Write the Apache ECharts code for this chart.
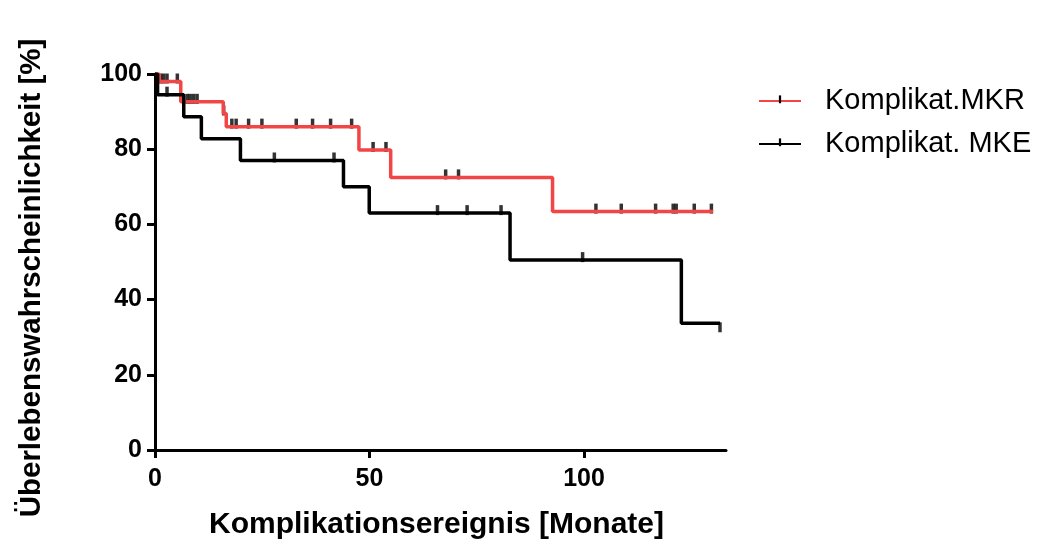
<!DOCTYPE html>
<html>
<head>
<meta charset="utf-8">
<script src="https://cdn.jsdelivr.net/npm/echarts@6/dist/echarts.min.js"></script>
<style>
html,body{margin:0;padding:0;background:#fff}
#chart{width:1040px;height:540px}
</style>
</head>
<body>
<div id="chart"></div>
<script>
// Kaplan-Meier steps (time in months, survival in %)
var mkrTime = [0, 1.0, 6.0, 15.9, 16.6, 47.5, 54.9, 92.6, 130.0];
var mkrSurv = [100, 98.0, 92.6, 89.5, 86.0, 79.8, 72.5, 63.4, 63.4];
var mkeTime = [0, 0.6, 6.7, 10.8, 19.9, 43.9, 49.9, 82.7, 122.6, 131.6];
var mkeSurv = [100, 94.5, 88.6, 82.8, 77.0, 70.0, 63.0, 50.5, 33.7, 33.7];
// censored times
var mkrCensored = [1.3, 2.0, 2.8, 5.2, 7.5, 8.2, 9.0, 9.8, 16.0, 17.9, 18.9, 21.8, 24.9, 32.9, 36.7, 40.9, 45.8, 50.8, 53.8, 67.7, 70.7, 102.7, 108.6, 116.6, 120.7, 121.4, 125.6, 129.6];
var mkeCensored = [2.8, 27.8, 41.7, 65.8, 72.7, 80.6, 99.6];
var mkeCensoredEnd = [131.6];
var xMax = 133;
var xTickMax = 100;   // last x tick (0, 50, 100)
var seriesNames = ['Komplikat.MKR', 'Komplikat. MKE'];

(function(){
    var font = 'Liberation Sans, Arial, sans-serif';
    var plotW = 571;

    function pairs(t, s){
        var out = [];
        for (var i = 0; i < t.length; i++) out.push([t[i], s[i]]);
        return out;
    }
    // level of the step curve at time x
    function levelAt(t, s, x){
        var v = s[0];
        for (var i = 0; i < t.length; i++) { if (t[i] <= x) v = s[i]; }
        return v;
    }
    function cens(t, s, list){
        return list.map(function(x){ return [x, levelAt(t, s, x)]; });
    }

    var tickPath = 'path://M0,0 M10,10 M4,0 L6,0 L6,7 L4,7 Z';
    var black = '#000';
    var red = '#f24646';

    var myChart = echarts.init(document.getElementById('chart'));
    var option = {
        animation: false,
        grid: [
            { left: 155, top: 74, width: plotW, height: 376, outerBoundsMode: 'none' },
            // same scale, ending at the last tick: carries the x ticks/labels
            { left: 155, top: 74, width: Math.round(plotW * xTickMax / xMax), height: 376, outerBoundsMode: 'none' }
        ],
        legend: {
            data: [
                { name: seriesNames[0], itemStyle: { color: black } },
                { name: seriesNames[1], itemStyle: { color: black } }
            ],
            orient: 'vertical',
            left: 753,
            top: 81,
            itemWidth: 42,
            itemHeight: 14,
            itemGap: 13,
            textStyle: { fontFamily: font, fontSize: 29, color: black, lineHeight: 30, padding: [0, 0, 0, 19] }
        },
        xAxis: [
            {
                type: 'value',
                gridIndex: 0,
                min: 0,
                max: xMax,
                name: 'Komplikationsereignis [Monate]',
                nameLocation: 'middle',
                nameGap: 60,
                nameTextStyle: { fontFamily: font, fontSize: 30, fontWeight: 'bold', color: black, padding: [0, 8, 0, 0] },
                axisLine: { show: true, lineStyle: { color: black, width: 3 } },
                axisTick: { show: false },
                axisLabel: { show: false },
                splitLine: { show: false }
            },
            {
                type: 'value',
                gridIndex: 1,
                min: 0,
                max: xTickMax,
                interval: 50,
                axisLine: { show: false },
                axisTick: { show: true, length: 8, lineStyle: { color: black, width: 3 } },
                axisLabel: { margin: 17, fontFamily: font, fontSize: 25, fontWeight: 'bold', color: black },
                splitLine: { show: false }
            }
        ],
        yAxis: [
            {
                type: 'value',
                gridIndex: 0,
                min: 0,
                max: 100,
                interval: 20,
                name: 'Überlebenswahrscheinlichkeit [%]',
                nameLocation: 'middle',
                nameGap: 108,
                nameTextStyle: { fontFamily: font, fontSize: 29.5, fontWeight: 'bold', color: black, padding: [0, 32, 0, 0] },
                axisLine: { show: true, lineStyle: { color: black, width: 3 } },
                axisTick: { show: true, length: 8, lineStyle: { color: black, width: 3 } },
                axisLabel: { margin: 13, fontFamily: font, fontSize: 25, fontWeight: 'bold', color: black },
                splitLine: { show: false }
            },
            { type: 'value', gridIndex: 1, min: 0, max: 100, show: false }
        ],
        series: [
            {
                name: seriesNames[0],
                type: 'line',
                step: 'end',
                data: pairs(mkrTime, mkrSurv),
                showSymbol: false,
                symbol: tickPath,
                lineStyle: { color: red, width: 3.5 },
                itemStyle: { color: red }
            },
            {
                name: seriesNames[1],
                type: 'line',
                step: 'end',
                data: pairs(mkeTime, mkeSurv),
                showSymbol: false,
                symbol: tickPath,
                lineStyle: { color: black, width: 3.5 },
                itemStyle: { color: black }
            },
            {
                name: 'censMKR',
                type: 'scatter',
                data: cens(mkrTime, mkrSurv, mkrCensored),
                symbol: 'rect',
                symbolSize: [3.5, 10],
                symbolOffset: [0, -3],
                itemStyle: { color: black },
                silent: true
            },
            {
                name: 'censMKE',
                type: 'scatter',
                data: cens(mkeTime, mkeSurv, mkeCensored),
                symbol: 'rect',
                symbolSize: [3.5, 10],
                symbolOffset: [0, -3],
                itemStyle: { color: black },
                silent: true
            },
            {
                name: 'censMKEend',
                type: 'scatter',
                data: cens(mkeTime, mkeSurv, mkeCensoredEnd),
                symbol: 'rect',
                symbolSize: [3.5, 10],
                symbolOffset: [0, 4],
                itemStyle: { color: black },
                silent: true
            }
        ]
    };
    myChart.setOption(option);
    window.addEventListener('resize', function(){
        myChart.resize();
    });
})();
</script>
</body>
</html>
